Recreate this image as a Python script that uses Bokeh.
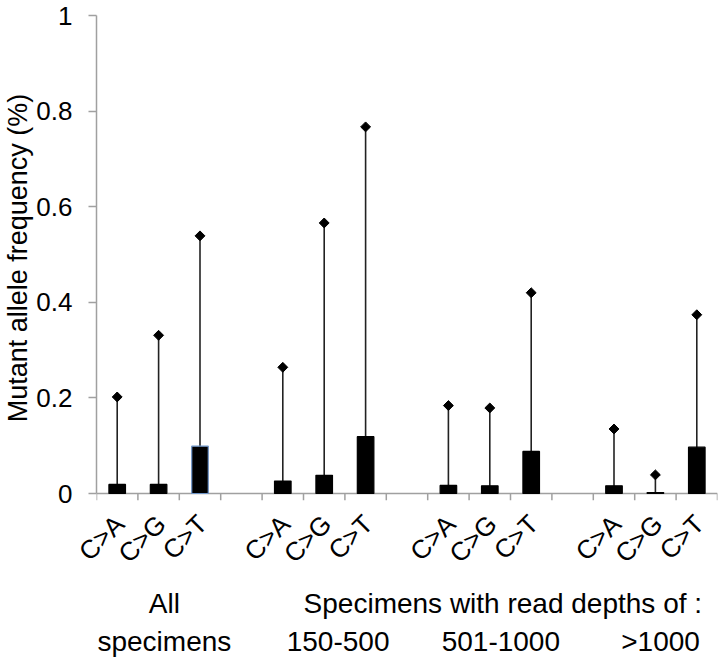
import math
from bokeh.plotting import figure
from bokeh.models import Range1d, FixedTicker, LinearAxis, ColumnDataSource
from bokeh.embed import file_html
from bokeh.resources import INLINE

# ---- data ----
mutation_types = ["C>A", "C>G", "C>T"]
group_names = ["All specimens", "150-500", "501-1000", ">1000"]
mean_all = [0.019, 0.019, 0.099]
mean_150_500 = [0.026, 0.038, 0.119]
mean_501_1000 = [0.017, 0.016, 0.088]
mean_gt1000 = [0.016, 0.002, 0.097]
max_all = [0.202, 0.331, 0.539]
max_150_500 = [0.264, 0.566, 0.767]
max_501_1000 = [0.184, 0.179, 0.420]
max_gt1000 = [0.135, 0.039, 0.374]
y_ticks = [0, 0.2, 0.4, 0.6, 0.8, 1]
y_tick_labels = ["0", "0.2", "0.4", "0.6", "0.8", "1"]
caption_row1 = ["All", "Specimens with read depths of :"]
caption_row2 = ["specimens", "150-500", "501-1000", ">1000"]

means = [mean_all, mean_150_500, mean_501_1000, mean_gt1000]
maxes = [max_all, max_150_500, max_501_1000, max_gt1000]

FONT = "Liberation Sans"
n_slots = 4 * len(group_names) - 1

# ---- layout (canvas pixels) ----
W, H = 718, 659
LEFT, TOP = 95, 15
Y0_PX = 494                     # canvas row of value 0
TICK_PX = 7
PPU = Y0_PX - TOP
BOTTOM = H - (Y0_PX + TICK_PX)
SLOT_PX = (W - 1 - LEFT) / n_slots


def xpx(px):
    return round((px - LEFT) / SLOT_PX, 3)


xs, tops, highs, lines = [], [], [], []
for g in range(len(group_names)):
    for t in range(len(mutation_types)):
        xs.append(4 * g + t + 0.5)
        tops.append(means[g][t])
        highs.append(maxes[g][t])
        lines.append("#6f95c8" if (g == 0 and t == 2) else "black")

src = ColumnDataSource(dict(x=xs, top=tops, high=highs, zero=[0] * len(xs), lc=lines))

p = figure(width=W, height=H, output_backend="svg", toolbar_location=None,
           x_range=Range1d(0, n_slots), y_range=Range1d(-TICK_PX / PPU, 1),
           x_axis_location=None,
           min_border_left=LEFT, min_border_right=1, min_border_top=TOP,
           min_border_bottom=BOTTOM)
p.outline_line_color = None
p.xgrid.visible = False
p.ygrid.visible = False
p.background_fill_color = "white"
p.border_fill_color = "white"

axis_col = "#a0a0a0"

# y axis
p.yaxis.bounds = (0, 1)
p.yaxis.ticker = FixedTicker(ticks=y_ticks)
p.yaxis.major_label_overrides = {v: s for v, s in zip(y_ticks, y_tick_labels)}
p.yaxis.minor_tick_line_color = None
p.yaxis.axis_line_color = axis_col
p.yaxis.axis_line_width = 1.5
p.yaxis.major_tick_line_color = axis_col
p.yaxis.major_tick_line_width = 1.5
p.yaxis.major_tick_out = 8
p.yaxis.major_tick_in = 0
p.yaxis.major_label_standoff = 16
p.yaxis.major_label_text_font = FONT
p.yaxis.major_label_text_font_size = "26px"
p.yaxis.major_label_text_color = "black"
p.yaxis.axis_label = "Mutant allele frequency (%)"
p.yaxis.axis_label_text_font = FONT
p.yaxis.axis_label_text_font_size = "27px"
p.yaxis.axis_label_text_font_style = "normal"
p.yaxis.axis_label_text_color = "black"
p.yaxis.axis_label_standoff = 0

# x axis line and slot-boundary ticks at value 0
bounds = list(range(0, n_slots + 1))
p.segment(x0=[0], y0=[0], x1=[n_slots], y1=[0], line_color=axis_col, line_width=1.5)
p.segment(x0=bounds, y0=[0] * len(bounds), x1=bounds, y1=[-TICK_PX / PPU] * len(bounds),
          line_color=axis_col, line_width=1.5)

# whiskers, markers, bars
p.segment(x0="x", y0="zero", x1="x", y1="high", source=src, line_color="#222222", line_width=1.6)
p.scatter(x="x", y="high", source=src, marker="square", angle=math.pi / 4, size=7,
          fill_color="black", line_color="black")
p.vbar(x="x", top="top", width=0.4, source=src, fill_color="black", line_color="lc", line_width=1.2)


def text_axis(ticks, labels, standoff, angle=None, size="28px"):
    ax = LinearAxis(ticker=FixedTicker(ticks=ticks),
                    major_label_overrides={t: s for t, s in zip(ticks, labels)})
    ax.axis_line_color = None
    ax.major_tick_line_color = None
    ax.minor_tick_line_color = None
    ax.major_tick_out = 0
    ax.major_tick_in = 0
    ax.major_label_standoff = standoff
    ax.major_label_text_font = FONT
    ax.major_label_text_font_size = size
    ax.major_label_text_color = "black"
    if angle is not None:
        ax.major_label_orientation = angle
    p.add_layout(ax, "below")
    return ax


# rotated mutation-type labels under each bar
text_axis([x + 0.06 for x in xs], [mutation_types[i % 3] for i in range(len(xs))],
          standoff=19, angle=math.pi / 4, size="26px")
# caption rows
text_axis([xpx(163), xpx(502)], caption_row1, standoff=5)
text_axis([xpx(163), xpx(337), xpx(500), xpx(660)], caption_row2, standoff=4)

open("out.html", "w").write(file_html(p, INLINE))
